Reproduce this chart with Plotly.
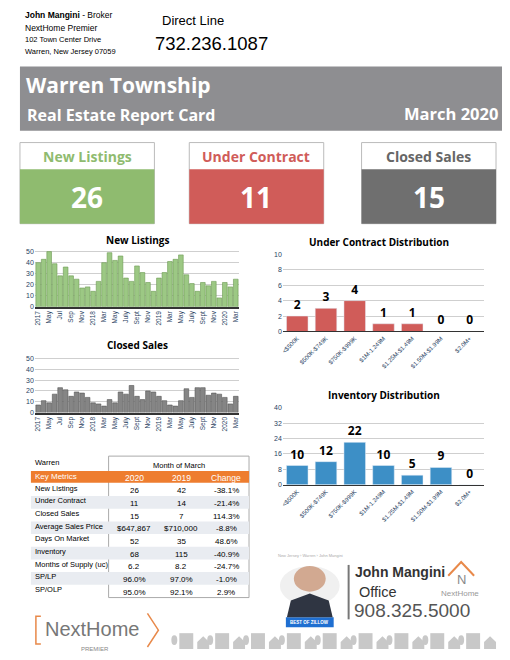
import plotly.graph_objects as go

# the page body keeps an 8px margin, so the figure is a bit smaller than the window
PAD = 8
W, H = 510 - 2 * PAD, 660 - 2 * PAD

# ---- data
months = ['Mar 17', 'Apr 17', 'May 17', 'Jun 17', 'Jul 17', 'Aug 17', 'Sep 17', 'Oct 17', 'Nov 17', 'Dec 17',
          'Jan 18', 'Feb 18', 'Mar 18', 'Apr 18', 'May 18', 'Jun 18', 'Jul 18', 'Aug 18', 'Sep 18', 'Oct 18',
          'Nov 18', 'Dec 18', 'Jan 19', 'Feb 19', 'Mar 19', 'Apr 19', 'May 19', 'Jun 19', 'Jul 19', 'Aug 19',
          'Sep 19', 'Oct 19', 'Nov 19', 'Dec 19', 'Jan 20', 'Feb 20', 'Mar 20']
month_ticks = ['2017', 'May', 'Jul', 'Sep', 'Nov', '2018', 'Mar', 'May', 'July', 'Sept', 'Nov',
               '2019', 'Mar', 'May', 'July', 'Sept', 'Nov', '2020', 'Mar']
new_listings = [40, 43, 50, 39, 28, 36, 28, 25, 17, 18, 14, 23, 40, 49, 42, 46, 26, 23, 37, 31,
                22, 14, 26, 31, 41, 43, 47, 29, 21, 14, 22, 19, 23, 8, 22, 18, 25]
closed_sales = [7, 11, 9, 17, 23, 21, 15, 19, 18, 14, 9, 8, 6, 12, 9, 19, 17, 25, 15, 12,
                20, 19, 15, 11, 7, 6, 11, 22, 14, 23, 23, 16, 18, 17, 14, 8, 15]

price_bands = ['<$500K', '$500K-$749K', '$750K-$999K', '$1M-1.249M', '$1.25M-$1.49M', '$1.50M-$1.99M', '$2.0M+']
under_contract = [2, 3, 4, 1, 1, 0, 0]
inventory = [10, 12, 22, 10, 5, 9, 0]

metric_names = ['New Listings', 'Under Contract', 'Closed Sales', 'Average Sales Price', 'Days On Market',
                'Inventory', 'Months of Supply (uc)', 'SP/LP', 'SP/OLP']
values_2020 = ['26', '11', '15', '$647,867', '52', '68', '6.2', '96.0%', '95.0%']
values_2019 = ['42', '14', '7', '$710,000', '35', '115', '8.2', '97.0%', '92.1%']
changes = ['-38.1%', '-21.4%', '114.3%', '-8.8%', '48.6%', '-40.9%', '-24.7%', '-1.0%', '2.9%']

summary_titles = ['New Listings', 'Under Contract', 'Closed Sales']
summary_values = [26, 11, 15]

GREEN, RED, DGRAY, BANNER = '#8fbb6f', '#d05c59', '#6f6f6f', '#8e8e91'
OPEN = 'Open Sans'
SANS = 'Liberation Sans'


def px(x):
    return (x - PAD) / W


def py(y):
    return 1 - (y - PAD) / H


fig = go.Figure(layout=dict(
    width=W, height=H, margin=dict(l=0, r=0, t=0, b=0),
    paper_bgcolor='white', plot_bgcolor='white', showlegend=False, bargap=0.15,
))

shapes, notes = [], []


def text(x, y, s, size, color='black', family=SANS, anchor='left', bold=False, **kw):
    if bold:
        s = '<b>' + s + '</b>'
    notes.append(dict(x=px(x), y=py(y), xref='paper', yref='paper', text=s, showarrow=False,
                      xanchor=anchor, yanchor='middle', font=dict(size=size, color=color, family=family), **kw))


def rect(x0, y0, x1, y1, fill, line=None, lw=1):
    shapes.append(dict(type='rect', xref='paper', yref='paper', x0=px(x0), x1=px(x1), y0=py(y1), y1=py(y0),
                       fillcolor=fill, line=dict(color=line or fill, width=lw if line else 0), layer='below'))


# ---- header
text(21, 11, '<b>John Mangini</b> - Broker', 8.5)
text(21, 24, 'NextHome Premier', 8.5)
text(21, 36, '102 Town Center Drive', 7.5)
text(21, 48, 'Warren, New Jersey 07059', 7.5)
text(159, 17, 'Direct Line', 13)
text(152, 40, '732.236.1087', 18.5)

rect(18, 63, 503, 128, BANNER)
text(22, 82, 'Warren Township', 21, 'white', OPEN, bold=True)
text(23, 112, 'Real Estate Report Card', 16, 'white', OPEN, bold=True)
text(500, 111, 'March 2020', 16.5, 'white', OPEN, anchor='right', bold=True)

box_x = [18, 188, 361]
box_w = [135, 135, 135]
box_col = [GREEN, RED, DGRAY]
for i in range(3):
    x0 = box_x[i]
    x1 = x0 + box_w[i]
    rect(x0, 140, x1, 222, 'white', '#bbbbbb', 1)
    rect(x0, 167, x1, 222, box_col[i])
    text((x0 + x1) / 2, 154, summary_titles[i], 14, box_col[i] if i < 2 else '#666666', OPEN, 'center', True)
    text((x0 + x1) / 2, 195, str(summary_values[i]), 28, 'white', OPEN, 'center', True)

# ---- monthly charts
idx = list(range(len(months)))
tick_idx = idx[::2]
fig.add_trace(go.Bar(x=idx, y=new_listings, marker=dict(color='#9cc884', line=dict(color='#6c9a52', width=0.6)),
                     xaxis='x', yaxis='y', hovertext=months))
fig.add_trace(go.Bar(x=idx, y=closed_sales, marker=dict(color='#858585', line=dict(color='#555555', width=0.6)),
                     xaxis='x2', yaxis='y2', hovertext=months))
fig.add_trace(go.Bar(x=price_bands, y=under_contract, marker_color=RED, text=under_contract,
                     textposition='outside', cliponaxis=False, texttemplate='<b>%{text}</b>', width=0.75,
                     textfont=dict(size=12, family=OPEN, color='black'), xaxis='x3', yaxis='y3'))
fig.add_trace(go.Bar(x=price_bands, y=inventory, marker_color='#3d8fc6', text=inventory,
                     textposition='outside', cliponaxis=False, texttemplate='<b>%{text}</b>', width=0.75,
                     textfont=dict(size=12, family=OPEN, color='black'), xaxis='x4', yaxis='y4'))

month_x = dict(tickvals=tick_idx, ticktext=month_ticks, tickangle=-90, tickfont=dict(size=6.5, family=SANS),
               showline=True, linecolor='#333333', linewidth=1.5, showgrid=False, range=[-0.6, len(months) - 0.4],
               ticks='')
month_y = dict(range=[0, 52], tickvals=[0, 10, 20, 30, 40, 50], tickfont=dict(size=7, family=SANS),
               gridcolor='#cfcfcf', gridwidth=0.8, zeroline=False)
dist_x = dict(tickangle=-45, tickfont=dict(size=6, family=SANS), showline=True, linecolor='#333333',
              linewidth=1.2, showgrid=False, ticks='')

fig.update_layout(
    xaxis=dict(domain=[px(33), px(238)], anchor='y', **month_x),
    yaxis=dict(domain=[py(306), py(248)], anchor='x', **month_y),
    xaxis2=dict(domain=[px(33), px(238)], anchor='y2', **month_x),
    yaxis2=dict(domain=[py(413), py(356)], anchor='x2', **month_y),
    xaxis3=dict(domain=[px(282), px(484)], anchor='y3', **dist_x),
    yaxis3=dict(domain=[py(331), py(253)], anchor='x3', range=[0, 10], dtick=2, tickfont=dict(size=7, family=SANS),
                gridcolor='#cfcfcf', zeroline=False),
    xaxis4=dict(domain=[px(282), px(484)], anchor='y4', **dist_x),
    yaxis4=dict(domain=[py(486), py(408)], anchor='x4', range=[0, 40], dtick=8, tickfont=dict(size=7, family=SANS),
                gridcolor='#cfcfcf', zeroline=False),
)

text(136, 238, 'New Listings', 10, 'black', OPEN, 'center', True)
text(136, 345, 'Closed Sales', 10, 'black', OPEN, 'center', True)
text(379, 241, 'Under Contract Distribution', 10, 'black', OPEN, 'center', True)
text(384, 395, 'Inventory Distribution', 10, 'black', OPEN, 'center', True)

# ---- metrics table
text(31, 463, 'Warren', 7.5)
text(178, 466, 'Month of March', 7.5, anchor='center')
rect(107, 457, 248, 600, 'white', '#aaaaaa', 1)
rect(29, 472, 248, 484, '#ee7d2f')
col_x = [133, 180, 225]
text(31, 478, 'Key Metrics', 8, 'white')
for cx, h in zip(col_x, ['2020', '2019', 'Change']):
    text(cx, 479, h, 8.5, 'white', anchor='center')
row_h = 12.8
for i, name in enumerate(metric_names):
    yc = 491 + i * row_h
    if i % 2 == 1:
        rect(29, yc - 6.4, 248, yc + 6.4, '#e9ecf1')
    text(31, yc - 1.5, name, 7.5)
    text(col_x[0], yc + 1, values_2020[i], 8, anchor='center')
    text(col_x[1], yc + 1, values_2019[i], 8, anchor='center')
    text(col_x[2], yc + 1, changes[i], 8, anchor='center')

# ---- agent card
text(275, 557, 'New Jersey › Warren › John Mangini', 4, '#aaaaaa')
shapes.append(dict(type='circle', xref='paper', yref='paper', x0=px(279), x1=px(339), y0=py(608), y1=py(568),
                   fillcolor='#f0f0f0', line=dict(width=0), layer='below'))
shapes.append(dict(type='circle', xref='paper', yref='paper', x0=px(293), x1=px(325), y0=py(594), y1=py(568),
                   fillcolor='#d2a991', line=dict(width=0), layer='below'))
shapes.append(dict(type='path', xref='paper', yref='paper', fillcolor='#2f3542', line=dict(width=0),
                   path=f'M {px(286)},{py(620)} L {px(290)},{py(603)} L {px(309)},{py(596)} '
                        f'L {px(328)},{py(603)} L {px(332)},{py(620)} Z'))
rect(285, 620, 333, 630, '#1f6fd1')
text(309, 625, 'BEST OF ZILLOW', 4.5, 'white', anchor='center', bold=True)
rect(347, 567, 349, 622, '#777777')
text(352, 574, '<b>John Mangini</b>', 14, '#333333', SANS)
text(356, 594, 'Office', 14.5, '#333333')
text(351, 613, '908.325.5000', 19, '#555555')
shapes.append(dict(type='path', xref='paper', yref='paper', line=dict(color='#e8894a', width=2),
                   path=f'M {px(448)},{py(578)} L {px(461)},{py(564)} L {px(474)},{py(578)}'))
text(461, 582, 'N', 13, '#888888', anchor='center')
text(460, 596, 'NextHome', 8, '#999999', anchor='center')

# ---- footer logo
shapes.append(dict(type='path', xref='paper', yref='paper', line=dict(color='#e8894a', width=1.5),
                   path=f'M {px(39)},{py(619)} L {px(34)},{py(619)} L {px(34)},{py(647)} L {px(39)},{py(647)}'))
shapes.append(dict(type='path', xref='paper', yref='paper', line=dict(color='#e8894a', width=1.5),
                   path=f'M {px(146)},{py(616)} L {px(157)},{py(633)} L {px(146)},{py(650)}'))
text(41, 632, 'NextHome', 20, '#777777')
text(93, 652, 'PREMIER', 6, '#888888', anchor='center')
for k in range(9):
    hx = 178 + k * 36
    rect(hx, 636, hx + 14, 652, '#c8c8c8')
    shapes.append(dict(type='path', xref='paper', yref='paper', fillcolor='#c8c8c8', line=dict(width=0),
                       path=f'M {px(hx + 18)},{py(652)} L {px(hx + 18)},{py(645)} L {px(hx + 24)},{py(639)} '
                            f'L {px(hx + 30)},{py(645)} L {px(hx + 30)},{py(652)} Z'))
    shapes.append(dict(type='circle', xref='paper', yref='paper', fillcolor='#c8c8c8', line=dict(width=0),
                       x0=px(hx - 8), x1=px(hx - 2), y0=py(648), y1=py(638)))

fig.update_layout(shapes=shapes, annotations=notes)
fig.write_html("out.html")
